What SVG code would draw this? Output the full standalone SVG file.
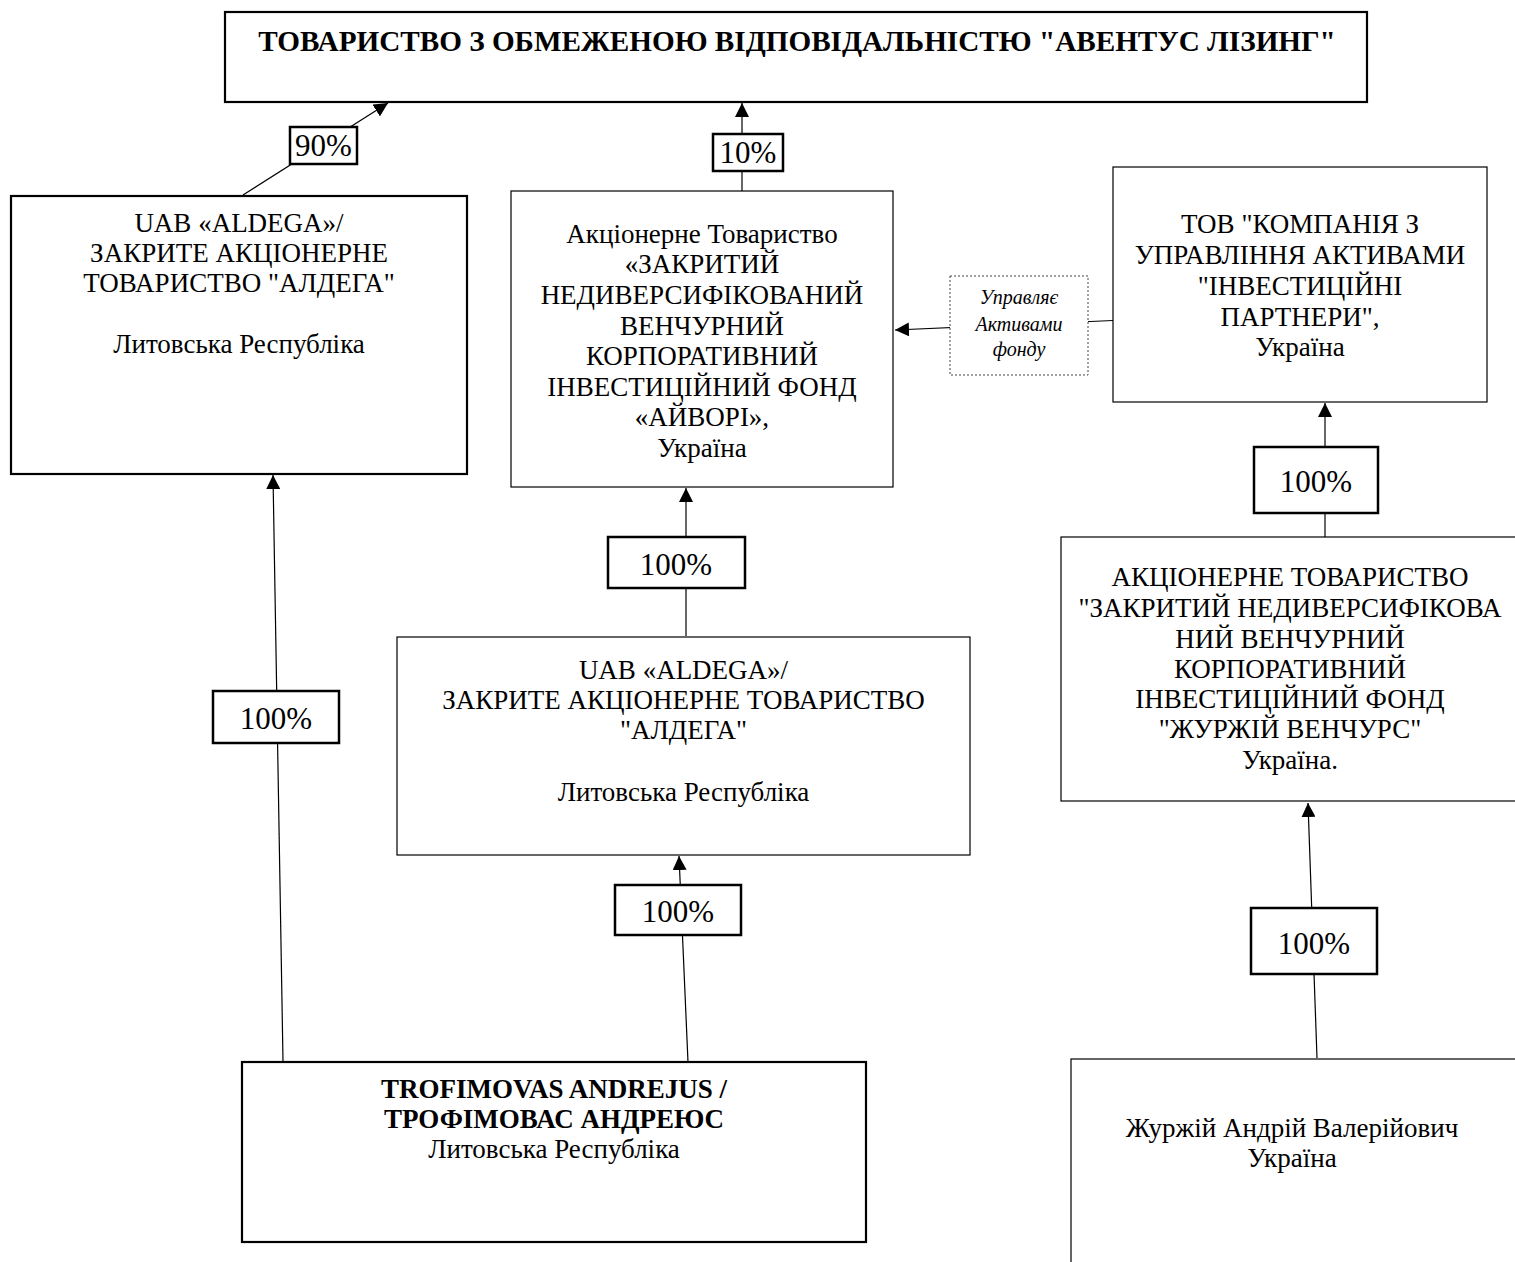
<svg xmlns="http://www.w3.org/2000/svg" width="1515" height="1262" viewBox="0 0 1515 1262">
<defs>
<marker id="ah" viewBox="0 0 14 14" refX="14" refY="7" markerWidth="14" markerHeight="14" orient="auto" markerUnits="userSpaceOnUse">
<path d="M0,0 L14,7 L0,14 z" fill="#000"/>
</marker>
<style>
.box{fill:#fff;stroke:#000;stroke-width:1.2}
.thick{fill:#fff;stroke:#000;stroke-width:2.2}
.lbl{fill:#fff;stroke:#000;stroke-width:2.5}
.dot{fill:#fff;stroke:#444;stroke-width:1;stroke-dasharray:2 2}
.t{font-family:"Liberation Serif","Times New Roman",serif;font-size:27px;fill:#000;text-anchor:middle}
.b{font-weight:bold}
.h{font-size:29.2px}
.p{font-family:"Liberation Serif","Times New Roman",serif;font-size:31px;fill:#000;text-anchor:middle}
.i{font-family:"Liberation Serif","Times New Roman",serif;font-size:20px;font-style:italic;fill:#000;text-anchor:middle}
.c{stroke:#000;stroke-width:1.2;fill:none}
</style>
</defs>
<rect width="1515" height="1262" fill="#fff"/>

<g id="connectors">
<g id="e-aldega1-top">
<line class="c" x1="243" y1="195" x2="388" y2="103" marker-end="url(#ah)"/>
<rect class="lbl" x="290" y="127" width="67" height="37"/>
<text class="p" x="323.5" y="156">90%</text>
</g>
<g id="e-fund-top">
<line class="c" x1="742" y1="191" x2="742" y2="103" marker-end="url(#ah)"/>
<rect class="lbl" x="713" y="134" width="70" height="37"/>
<text class="p" x="748" y="163">10%</text>
</g>
<g id="e-kua-fund">
<line class="c" x1="1113" y1="320.5" x2="895" y2="330" marker-end="url(#ah)"/>
<rect class="dot" x="950" y="276" width="138" height="99"/>
<text class="i" x="1019" y="304">Управляє</text>
<text class="i" x="1019" y="331">Активами</text>
<text class="i" x="1019" y="356">фонду</text>
</g>
<g id="e-zfund-kua">
<line class="c" x1="1325" y1="537" x2="1325" y2="403" marker-end="url(#ah)"/>
<rect class="lbl" x="1254" y="447" width="124" height="66"/>
<text class="p" x="1316" y="492">100%</text>
</g>
<g id="e-aldega2-fund">
<line class="c" x1="686" y1="636" x2="686" y2="488" marker-end="url(#ah)"/>
<rect class="lbl" x="608" y="537" width="137" height="51"/>
<text class="p" x="676" y="575">100%</text>
</g>
<g id="e-trof-aldega2">
<line class="c" x1="688" y1="1062" x2="679" y2="856" marker-end="url(#ah)"/>
<rect class="lbl" x="615" y="885" width="126" height="50"/>
<text class="p" x="678" y="922">100%</text>
</g>
<g id="e-trof-aldega1">
<line class="c" x1="283" y1="1061" x2="273" y2="475" marker-end="url(#ah)"/>
<rect class="lbl" x="213" y="691" width="126" height="52"/>
<text class="p" x="276" y="729">100%</text>
</g>
<g id="e-zh-zfund">
<line class="c" x1="1317" y1="1058" x2="1308" y2="803" marker-end="url(#ah)"/>
<rect class="lbl" x="1251" y="908" width="126" height="66"/>
<text class="p" x="1314" y="954">100%</text>
</g>
</g>

<g id="n-top">
<rect class="thick" x="225" y="12" width="1142" height="90"/>
<text class="t b h" x="797" y="51">ТОВАРИСТВО З ОБМЕЖЕНОЮ ВІДПОВІДАЛЬНІСТЮ "АВЕНТУС ЛІЗИНГ"</text>
</g>

<g id="n-aldega1">
<rect class="thick" x="11" y="196" width="456" height="278"/>
<text class="t" x="239" y="232">UAB «ALDEGA»/</text>
<text class="t" x="239" y="262">ЗАКРИТЕ АКЦІОНЕРНЕ</text>
<text class="t" x="239" y="292">ТОВАРИСТВО "АЛДЕГА"</text>
<text class="t" x="239" y="353">Литовська Республіка</text>
</g>

<g id="n-fund">
<rect class="box" x="511" y="191" width="382" height="296"/>
<text class="t" x="702" y="243">Акціонерне Товариство</text>
<text class="t" x="702" y="273">«ЗАКРИТИЙ</text>
<text class="t" x="702" y="304">НЕДИВЕРСИФІКОВАНИЙ</text>
<text class="t" x="702" y="335">ВЕНЧУРНИЙ</text>
<text class="t" x="702" y="365">КОРПОРАТИВНИЙ</text>
<text class="t" x="702" y="396">ІНВЕСТИЦІЙНИЙ ФОНД</text>
<text class="t" x="702" y="426">«АЙВОРІ»,</text>
<text class="t" x="702" y="457">Україна</text>
</g>

<g id="n-kua">
<rect class="box" x="1113" y="167" width="374" height="235"/>
<text class="t" x="1300" y="233">ТОВ "КОМПАНІЯ З</text>
<text class="t" x="1300" y="264">УПРАВЛІННЯ АКТИВАМИ</text>
<text class="t" x="1300" y="295">"ІНВЕСТИЦІЙНІ</text>
<text class="t" x="1300" y="326">ПАРТНЕРИ",</text>
<text class="t" x="1300" y="356">Україна</text>
</g>

<g id="n-zfund">
<rect class="box" x="1061" y="537" width="460" height="264"/>
<text class="t" x="1290" y="586">АКЦІОНЕРНЕ ТОВАРИСТВО</text>
<text class="t" x="1290" y="617">"ЗАКРИТИЙ НЕДИВЕРСИФІКОВА</text>
<text class="t" x="1290" y="648">НИЙ ВЕНЧУРНИЙ</text>
<text class="t" x="1290" y="678">КОРПОРАТИВНИЙ</text>
<text class="t" x="1290" y="708">ІНВЕСТИЦІЙНИЙ ФОНД</text>
<text class="t" x="1290" y="738">"ЖУРЖІЙ ВЕНЧУРС"</text>
<text class="t" x="1290" y="769">Україна.</text>
</g>

<g id="n-aldega2">
<rect class="box" x="397" y="637" width="573" height="218"/>
<text class="t" x="683.5" y="679">UAB «ALDEGA»/</text>
<text class="t" x="683.5" y="709">ЗАКРИТЕ АКЦІОНЕРНЕ ТОВАРИСТВО</text>
<text class="t" x="683.5" y="739">"АЛДЕГА"</text>
<text class="t" x="683.5" y="801">Литовська Республіка</text>
</g>

<g id="n-trofimovas">
<rect class="thick" x="242" y="1062" width="624" height="180"/>
<text class="t b" x="554" y="1098">TROFIMOVAS ANDREJUS /</text>
<text class="t b" x="554" y="1128">ТРОФІМОВАС АНДРЕЮС</text>
<text class="t" x="554" y="1158">Литовська Республіка</text>
</g>

<g id="n-zhurzhiy">
<rect class="box" x="1071" y="1059" width="460" height="220"/>
<text class="t" x="1292" y="1137">Журжій Андрій Валерійович</text>
<text class="t" x="1292" y="1167">Україна</text>
</g>
</svg>
